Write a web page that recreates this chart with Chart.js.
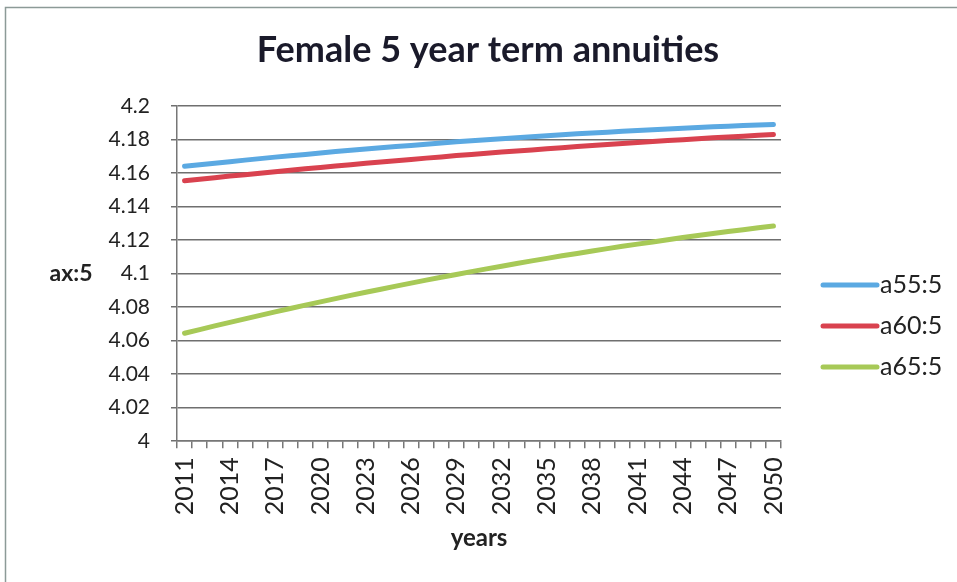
<!DOCTYPE html>
<html>
<head>
<meta charset="utf-8">
<script src="https://cdn.jsdelivr.net/npm/chart.js@4/dist/chart.umd.min.js"></script>
<style>
  html, body { margin: 0; padding: 0; background: #fff; }
  #wrap { width: 957px; height: 582px; position: relative; }
</style>
</head>
<body>
<div id="wrap"><canvas id="annuityChart" width="957" height="582"></canvas></div>
<script>
// --- data ---
const years = [];
for (let y = 2011; y <= 2050; y++) years.push(String(y));

const a55 = [4.1640, 4.1650, 4.1659, 4.1668, 4.1677, 4.1686, 4.1695, 4.1703, 4.1711, 4.1720,
             4.1728, 4.1736, 4.1743, 4.1751, 4.1758, 4.1765, 4.1772, 4.1779, 4.1786, 4.1793,
             4.1799, 4.1805, 4.1811, 4.1817, 4.1823, 4.1829, 4.1834, 4.1839, 4.1844, 4.1849,
             4.1854, 4.1859, 4.1863, 4.1867, 4.1872, 4.1876, 4.1879, 4.1883, 4.1886, 4.1890];

const a60 = [4.1554, 4.1563, 4.1572, 4.1582, 4.1590, 4.1599, 4.1608, 4.1617, 4.1625, 4.1633,
             4.1642, 4.1650, 4.1658, 4.1666, 4.1674, 4.1681, 4.1689, 4.1696, 4.1704, 4.1711,
             4.1718, 4.1725, 4.1732, 4.1738, 4.1745, 4.1751, 4.1758, 4.1764, 4.1770, 4.1776,
             4.1782, 4.1788, 4.1794, 4.1799, 4.1805, 4.1810, 4.1815, 4.1820, 4.1825, 4.1830];

const a65 = [4.0644, 4.0666, 4.0688, 4.0709, 4.0730, 4.0751, 4.0772, 4.0792, 4.0812, 4.0831,
             4.0851, 4.0870, 4.0889, 4.0907, 4.0925, 4.0943, 4.0961, 4.0978, 4.0995, 4.1012,
             4.1028, 4.1044, 4.1060, 4.1076, 4.1091, 4.1106, 4.1120, 4.1135, 4.1149, 4.1163,
             4.1176, 4.1189, 4.1202, 4.1215, 4.1227, 4.1239, 4.1251, 4.1262, 4.1273, 4.1284];

const seriesNames = ['a55:5', 'a60:5', 'a65:5'];
const seriesColors = ['#5ba9e2', '#d9424f', '#a7c957'];
const yMin = 4, yMax = 4.2, yStep = 0.02;
const chartTitle = 'Female 5 year term annuities';

const FONT = 'Lato, "Open Sans", sans-serif';

// frame, title (centred on the whole frame), y axis caption and the legend on the right
const extras = {
    id: 'extras',
    beforeDraw(chart) {
        const ctx = chart.ctx;
        ctx.save();
        ctx.fillStyle = '#fff';
        ctx.fillRect(0, 0, chart.width, chart.height);
        ctx.strokeStyle = '#8c9a97';
        ctx.lineWidth = 1.5;
        ctx.strokeRect(5.5, 7.5, chart.width + 20, chart.height + 20);
        ctx.restore();
    },
    afterDraw(chart) {
        const ctx = chart.ctx;
        const area = chart.chartArea;
        const yScale = chart.scales.y;
        ctx.save();
        ctx.textBaseline = 'middle';

        ctx.font = 'bold 36px ' + FONT;
        ctx.fillStyle = '#1a1a2a';
        ctx.textAlign = 'center';
        ctx.fillText(chartTitle, 488, 50);

        ctx.font = 'bold 23px ' + FONT;
        ctx.fillStyle = '#222';
        ctx.fillText('ax:5', 71, yScale.getPixelForValue(4.1));

        // legend
        const lx = area.right + 42;
        let ly = 285;
        ctx.font = '25px ' + FONT;
        ctx.textAlign = 'left';
        chart.data.datasets.forEach(ds => {
            ctx.strokeStyle = ds.borderColor;
            ctx.lineWidth = 5;
            ctx.lineCap = 'round';
            ctx.beginPath();
            ctx.moveTo(lx, ly);
            ctx.lineTo(lx + 54, ly);
            ctx.stroke();
            ctx.fillStyle = '#222';
            ctx.fillText(ds.label, lx + 57, ly);
            ly += 41;
        });
        ctx.restore();
    }
};

new Chart(document.getElementById('annuityChart'), {
    type: 'line',
    data: {
        labels: years,
        datasets: [a55, a60, a65].map((vals, i) => ({
            label: seriesNames[i],
            data: vals,
            borderColor: seriesColors[i],
            backgroundColor: seriesColors[i],
            borderWidth: 5,
            borderCapStyle: 'round',
            pointRadius: 0,
            tension: 0,
            fill: false
        }))
    },
    options: {
        responsive: false,
        animation: false,
        layout: { padding: { left: 0, right: 176, top: 106, bottom: 29 } },
        plugins: {
            legend: { display: false },
            tooltip: { enabled: false },
            title: { display: false }
        },
        scales: {
            x: {
                offset: true,
                grid: {
                    offset: true,
                    drawOnChartArea: false,
                    drawTicks: true,
                    tickLength: 7,
                    color: '#777',
                    lineWidth: 1.5
                },
                border: { color: '#777', width: 1.5 },
                ticks: {
                    autoSkip: false,
                    maxRotation: 90,
                    minRotation: 90,
                    padding: 9,
                    color: '#222',
                    font: { family: FONT, size: 25 },
                    callback: function (val, idx) {
                        return idx % 3 === 0 ? this.getLabelForValue(val) : '';
                    }
                },
                title: {
                    display: true,
                    text: 'years',
                    color: '#222',
                    font: { family: FONT, size: 24, weight: 'bold' },
                    padding: { top: 0, bottom: 0 }
                }
            },
            y: {
                min: yMin,
                max: yMax,
                afterFit(scale) { scale.width = 177; },
                grid: {
                    color: '#6f6f6f',
                    lineWidth: 1.5,
                    drawTicks: true,
                    tickLength: 6
                },
                border: { color: '#777', width: 1.5 },
                ticks: {
                    stepSize: yStep,
                    padding: 21,
                    color: '#222',
                    font: { family: FONT, size: 21 },
                    callback: v => String(Number(v.toFixed(2)))
                }
            }
        }
    },
    plugins: [extras]
});
</script>
</body>
</html>
